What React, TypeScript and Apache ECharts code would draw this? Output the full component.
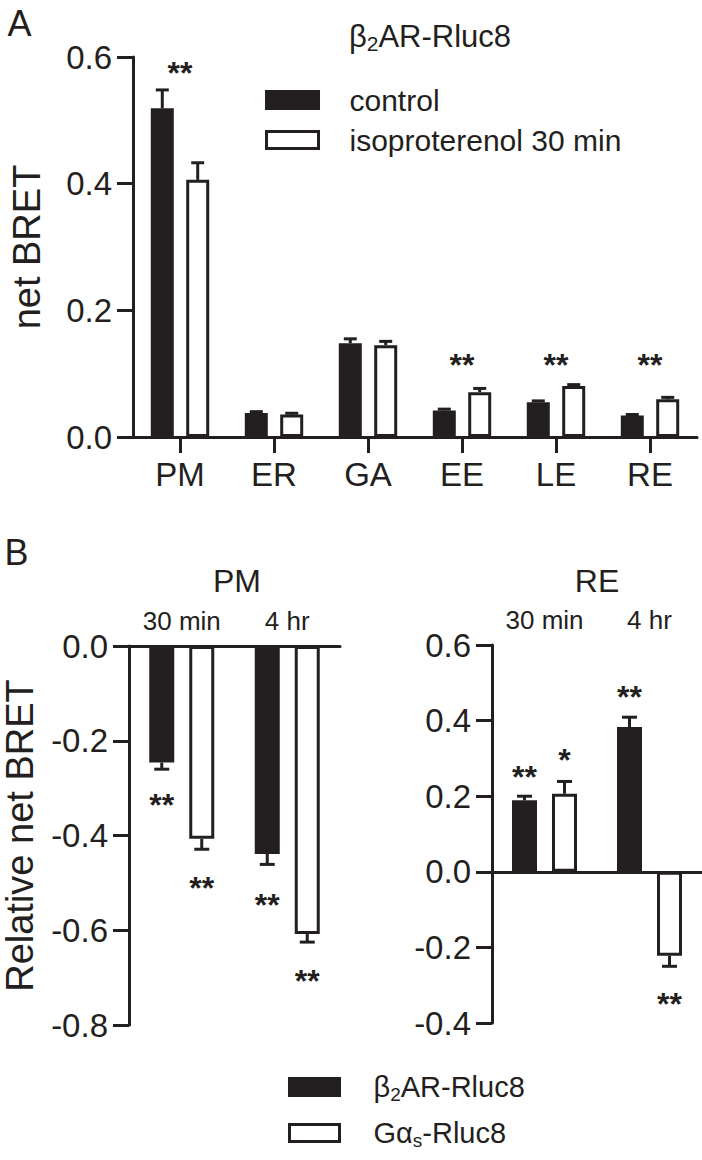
import React, { useEffect, useRef } from 'react';
import * as echarts from 'echarts';

const FONT = "'Liberation Sans', Arial, Helvetica, sans-serif";
const INK = '#231f20';

// ---------- Panel A data ----------
const catsA = ['PM', 'ER', 'GA', 'EE', 'LE', 'RE'];
const controlA = [0.519, 0.038, 0.148, 0.042, 0.055, 0.034];
const controlErrA = [0.029, 0.002, 0.007, 0.002, 0.002, 0.0015];
const isoA = [0.406, 0.0355, 0.145, 0.0707, 0.0807, 0.0596];
const isoErrA = [0.027, 0.002, 0.006, 0.006, 0.002, 0.003];
const sigA = ['**', '', '', '**', '**', '**'];
const sigAnchorA = [0.585, 0, 0, 0.124, 0.124, 0.124];

// ---------- Panel B data ----------
const timesB = ['30 min', '4 hr'];
const pmB2 = [-0.246, -0.439];
const pmB2Err = [0.014, 0.022];
const pmGas = [-0.407, -0.608];
const pmGasErr = [0.022, 0.017];
const reB2 = [0.189, 0.383];
const reB2Err = [0.011, 0.026];
const reGas = [0.2065, -0.222];
const reGasErr = [0.0325, 0.028];
const sigPmB2 = ['**', '**'];
const sigPmB2Anchor = [-0.323, -0.533];
const sigPmGas = ['**', '**'];
const sigPmGasAnchor = [-0.498, -0.693];
const sigReB2 = ['**', '**'];
const sigReB2Anchor = [0.268, 0.48];
const sigReGas = ['*', '**'];
const sigReGasAnchor = [0.312, -0.333];

const ticksA = { min: 0, max: 0.6, interval: 0.2 };
const ticksBpm = { min: -0.8, max: 0, interval: 0.2 };
const ticksBre = { min: -0.4, max: 0.6, interval: 0.2 };

// ---------- layout constants ----------
const BAR_W_A = 23;
const GAP_A = 0.54;
const OFF_A = (BAR_W_A * (1 + GAP_A)) / 2;
const BAR_W_B = 25;
const GAP_B = 0.6;
const OFF_B = (BAR_W_B * (1 + GAP_B)) / 2;
const LW = 3;
const STAR_FS = 32;

function errorBars(values: number[], errs: number[], dx: number, cap: number) {
  return (params: any, api: any) => {
    const i = params.dataIndex;
    const v = values[i];
    const e = errs[i];
    const end = v + (v >= 0 ? e : -e);
    const p0 = api.coord([i, v]);
    const p1 = api.coord([i, end]);
    const x = p0[0] + dx;
    return {
      type: 'group',
      children: [
        { type: 'line', shape: { x1: x, y1: p0[1], x2: x, y2: p1[1] }, style: { stroke: INK, lineWidth: LW } },
        { type: 'line', shape: { x1: x - cap / 2, y1: p1[1], x2: x + cap / 2, y2: p1[1] }, style: { stroke: INK, lineWidth: LW } },
      ],
    };
  };
}

function starMarks(texts: string[], anchors: number[], dx: number) {
  return (params: any, api: any) => {
    const i = params.dataIndex;
    if (!texts[i]) return { type: 'group', children: [] };
    const p = api.coord([i, anchors[i]]);
    return {
      type: 'text',
      x: p[0] + dx,
      y: p[1] + STAR_FS * 0.2,
      style: {
        text: texts[i],
        fontSize: STAR_FS,
        fontWeight: 'bold',
        fontFamily: FONT,
        fill: INK,
        align: 'center',
        verticalAlign: 'middle',
      },
    };
  };
}

const idx = (arr: number[]) => arr.map((v, i) => [i, v]);
const idxS = (arr: string[]) => arr.map((_, i) => [i, 0]);

const tickFmt = (v: number) => (Math.abs(v) < 1e-9 ? '0.0' : v.toFixed(1));

const axisLineStyle = { lineStyle: { color: INK, width: LW } };
const axisTickStyle = { show: true, length: 16, lineStyle: { color: INK, width: LW } };
const valLabel = { color: INK, fontSize: 33, fontFamily: FONT, margin: 21, formatter: tickFmt };

const richT = {
  g: { width: 26 },
  t: { fontSize: 30, fontFamily: FONT, color: INK },
  s: { fontSize: 20, fontFamily: FONT, color: INK, padding: [14, 0, 0, 0] },
};

function buildOption() {
  return {
    animation: false,
    backgroundColor: '#ffffff',
    textStyle: { fontFamily: FONT, color: INK },
    grid: [
      { left: 129, top: 57, width: 568, height: 380 },
      { left: 129, top: 646, width: 211, height: 379 },
      { left: 492, top: 645, width: 210, height: 378 },
    ],
    legend: [
      {
        data: ['control', 'isoproterenol 30 min'],
        orient: 'vertical',
        left: 265,
        top: 85,
        padding: 0,
        itemWidth: 52,
        itemHeight: 17,
        itemGap: 10,
        icon: 'rect',
        selectedMode: false,
        itemStyle: { borderColor: INK, borderWidth: LW },
        textStyle: { color: INK, fontSize: 30, fontFamily: FONT, lineHeight: 30, rich: richT },
        formatter: (name: string) => `{g|}{t|${name}}`,
      },
      {
        data: ['β2AR-Rluc8', 'Gαs-Rluc8'],
        orient: 'vertical',
        left: 288,
        top: 1070,
        padding: 0,
        itemWidth: 50,
        itemHeight: 17,
        itemGap: 12,
        icon: 'rect',
        selectedMode: false,
        itemStyle: { borderColor: INK, borderWidth: LW },
        textStyle: {
          color: INK, fontSize: 29, fontFamily: FONT, lineHeight: 34,
          rich: { g: { width: 29 }, t: { fontSize: 29, fontFamily: FONT, color: INK }, s: { fontSize: 19, fontFamily: FONT, color: INK, padding: [14, 0, 0, 0] } },
        },
        formatter: (name: string) =>
          name === 'β2AR-Rluc8' ? '{g|}{t|β}{s|2}{t|AR-Rluc8}' : '{g|}{t|Gα}{s|s}{t|-Rluc8}',
      },
    ],
    graphic: [
      { type: 'text', x: 19.5, y: 23, style: { text: 'A', fontSize: 36, fontFamily: FONT, fill: INK, align: 'center', verticalAlign: 'middle' } },
      { type: 'text', x: 16.5, y: 552, style: { text: 'B', fontSize: 36, fontFamily: FONT, fill: INK, align: 'center', verticalAlign: 'middle' } },
      {
        type: 'text',
        x: 430,
        y: 36,
        style: {
          text: '{t|β}{s|2}{t|AR-Rluc8}',
          rich: { t: { fontSize: 31, fontFamily: FONT, fill: INK, color: INK }, s: { fontSize: 21, fontFamily: FONT, fill: INK, color: INK, padding: [15, 0, 0, 0] } },
          fill: INK,
          align: 'center',
          verticalAlign: 'middle',
        },
      },
      { type: 'text', x: 237, y: 581, style: { text: 'PM', fontSize: 32, fontFamily: FONT, fill: INK, align: 'center', verticalAlign: 'middle' } },
      { type: 'text', x: 597, y: 581, style: { text: 'RE', fontSize: 32, fontFamily: FONT, fill: INK, align: 'center', verticalAlign: 'middle' } },
    ],
    xAxis: [
      {
        type: 'category', gridIndex: 0, data: catsA, position: 'bottom',
        axisLine: axisLineStyle,
        axisTick: { ...axisTickStyle, alignWithLabel: true },
        axisLabel: { color: INK, fontSize: 33, fontFamily: FONT, margin: 21 },
        splitLine: { show: false },
      },
      {
        type: 'category', gridIndex: 1, data: timesB, position: 'top',
        axisLine: { ...axisLineStyle, onZero: false },
        axisTick: { show: false },
        axisLabel: { color: INK, fontSize: 26, fontFamily: FONT, margin: 12 },
      },
      {
        type: 'category', gridIndex: 2, data: timesB, position: 'top',
        axisLine: { show: false, onZero: false },
        axisTick: { show: false },
        axisLabel: { color: INK, fontSize: 26, fontFamily: FONT, margin: 12 },
      },
      {
        type: 'category', gridIndex: 2, data: timesB, position: 'bottom',
        axisLine: { ...axisLineStyle, onZero: true },
        axisTick: { show: false },
        axisLabel: { show: false },
      },
    ],
    yAxis: [
      {
        type: 'value', gridIndex: 0, ...ticksA,
        name: 'net BRET', nameLocation: 'middle', nameRotate: 90, nameGap: 87,
        nameTextStyle: { fontSize: 38, fontFamily: FONT, color: INK },
        axisLine: { show: true, onZero: false, ...axisLineStyle },
        axisTick: axisTickStyle,
        axisLabel: valLabel,
        splitLine: { show: false },
      },
      {
        type: 'value', gridIndex: 1, ...ticksBpm,
        name: 'Relative net BRET', nameLocation: 'middle', nameRotate: 90, nameGap: 90,
        nameTextStyle: { fontSize: 38, fontFamily: FONT, color: INK },
        axisLine: { show: true, onZero: false, ...axisLineStyle },
        axisTick: axisTickStyle,
        axisLabel: valLabel,
        splitLine: { show: false },
      },
      {
        type: 'value', gridIndex: 2, ...ticksBre,
        axisLine: { show: true, onZero: false, ...axisLineStyle },
        axisTick: axisTickStyle,
        axisLabel: valLabel,
        splitLine: { show: false },
      },
    ],
    series: [
      // Panel A bars
      {
        type: 'bar', name: 'control', xAxisIndex: 0, yAxisIndex: 0, data: controlA,
        barWidth: BAR_W_A, barGap: `${GAP_A * 100}%`,
        itemStyle: { color: INK, borderColor: INK, borderWidth: LW },
      },
      {
        type: 'bar', name: 'isoproterenol 30 min', xAxisIndex: 0, yAxisIndex: 0, data: isoA,
        barWidth: BAR_W_A, barGap: `${GAP_A * 100}%`,
        itemStyle: { color: '#ffffff', borderColor: INK, borderWidth: LW },
      },
      { type: 'custom', xAxisIndex: 0, yAxisIndex: 0, data: idx(controlA), renderItem: errorBars(controlA, controlErrA, -OFF_A, 13), z: 1 },
      { type: 'custom', xAxisIndex: 0, yAxisIndex: 0, data: idx(isoA), renderItem: errorBars(isoA, isoErrA, OFF_A, 13), z: 1 },
      { type: 'custom', xAxisIndex: 0, yAxisIndex: 0, data: idxS(sigA), renderItem: starMarks(sigA, sigAnchorA, 0) },

      // Panel B - PM
      {
        type: 'bar', name: 'β2AR-Rluc8', xAxisIndex: 1, yAxisIndex: 1, data: pmB2,
        barWidth: BAR_W_B, barGap: `${GAP_B * 100}%`,
        itemStyle: { color: INK, borderColor: INK, borderWidth: LW },
      },
      {
        type: 'bar', name: 'Gαs-Rluc8', xAxisIndex: 1, yAxisIndex: 1, data: pmGas,
        barWidth: BAR_W_B, barGap: `${GAP_B * 100}%`,
        itemStyle: { color: '#ffffff', borderColor: INK, borderWidth: LW },
      },
      { type: 'custom', xAxisIndex: 1, yAxisIndex: 1, data: idx(pmB2), renderItem: errorBars(pmB2, pmB2Err, -OFF_B, 15), z: 1 },
      { type: 'custom', xAxisIndex: 1, yAxisIndex: 1, data: idx(pmGas), renderItem: errorBars(pmGas, pmGasErr, OFF_B, 15), z: 1 },
      { type: 'custom', xAxisIndex: 1, yAxisIndex: 1, data: idxS(sigPmB2), renderItem: starMarks(sigPmB2, sigPmB2Anchor, -OFF_B) },
      { type: 'custom', xAxisIndex: 1, yAxisIndex: 1, data: idxS(sigPmGas), renderItem: starMarks(sigPmGas, sigPmGasAnchor, OFF_B) },

      // Panel B - RE
      {
        type: 'bar', name: 'β2AR-Rluc8', xAxisIndex: 3, yAxisIndex: 2, data: reB2,
        barWidth: BAR_W_B, barGap: `${GAP_B * 100}%`,
        itemStyle: { color: INK, borderColor: INK, borderWidth: LW },
      },
      {
        type: 'bar', name: 'Gαs-Rluc8', xAxisIndex: 3, yAxisIndex: 2, data: reGas,
        barWidth: BAR_W_B, barGap: `${GAP_B * 100}%`,
        itemStyle: { color: '#ffffff', borderColor: INK, borderWidth: LW },
      },
      { type: 'custom', xAxisIndex: 3, yAxisIndex: 2, data: idx(reB2), renderItem: errorBars(reB2, reB2Err, -OFF_B, 15), z: 1 },
      { type: 'custom', xAxisIndex: 3, yAxisIndex: 2, data: idx(reGas), renderItem: errorBars(reGas, reGasErr, OFF_B, 15), z: 1 },
      { type: 'custom', xAxisIndex: 3, yAxisIndex: 2, data: idxS(sigReB2), renderItem: starMarks(sigReB2, sigReB2Anchor, -OFF_B) },
      { type: 'custom', xAxisIndex: 3, yAxisIndex: 2, data: idxS(sigReGas), renderItem: starMarks(sigReGas, sigReGasAnchor, OFF_B) },
    ],
  };
}

export default function App() {
  const ref = useRef<HTMLDivElement>(null);
  useEffect(() => {
    document.body.style.margin = '0';
    const chart = echarts.init(ref.current as HTMLDivElement, null, { renderer: 'svg' });
    chart.setOption(buildOption() as any);
    return () => chart.dispose();
  }, []);
  return <div ref={ref} style={{ width: 702, height: 1160, background: '#ffffff' }} />;
}
